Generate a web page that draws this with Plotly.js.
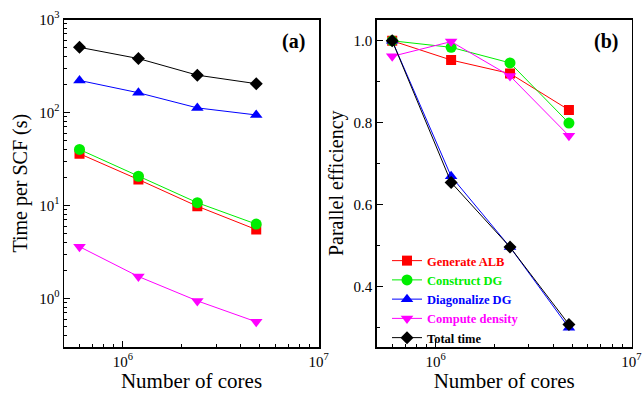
<!DOCTYPE html>
<html><head><meta charset="utf-8">
<script src="https://cdn.plot.ly/plotly-3.0.1.min.js"></script>
<style>html,body{margin:0;padding:0;background:#fff}</style>
</head><body><div id="chart" style="width:643px;height:397px"></div>
<script>
// ---- data ----
const cores = [6.0e5, 1.2e6, 2.4e6, 4.8e6];
const seriesNames = ['Generate ALB', 'Construct DG', 'Diagonalize DG', 'Compute density', 'Total time'];
const seriesColors = ['#ff0000', '#00ee00', '#0000ff', '#ff00ff', '#000000'];
const seriesSymbols = ['square', 'circle', 'triangle-up', 'triangle-down', 'diamond'];
const seriesSizes = [10, 11, 11, 11, 10];

const timeGenerateALB    = [36, 19, 9.8, 5.5];
const timeConstructDG    = [40, 20.6, 10.7, 6.3];
const timeDiagonalizeDG  = [221, 163, 112, 94];
const timeComputeDensity = [3.6, 1.72, 0.94, 0.56];
const timeTotal          = [502, 380, 252, 204];

const effGenerateALB    = [1.0, 0.953, 0.920, 0.831];
const effConstructDG    = [1.0, 0.984, 0.946, 0.799];
const effDiagonalizeDG  = [1.0, 0.669, 0.496, 0.299];
const effComputeDensity = [0.962, 0.998, 0.914, 0.768];
const effTotal          = [1.0, 0.654, 0.496, 0.307];

const xTickVals = [1e6, 1e7];
const xTickText = ['10<sup>6</sup>', '10<sup>7</sup>'];
const yTimeTickVals = [1, 10, 100, 1000];
const yTimeTickText = ['10<sup>0</sup>', '10<sup>1</sup>', '10<sup>2</sup>', '10<sup>3</sup>'];
const yEffTickVals = [0.4, 0.6, 0.8, 1.0];
const yEffTickText = ['0.4', '0.6', '0.8', '1.0'];

const timeSeries = [timeGenerateALB, timeConstructDG, timeDiagonalizeDG, timeComputeDensity, timeTotal];
const effSeries = [effGenerateALB, effConstructDG, effDiagonalizeDG, effComputeDensity, effTotal];

// minor log ticks (2..9 per decade)
function logMinor(lo, hi) {
  const out = [];
  for (let p = lo; p <= hi; p++) for (let m = 2; m <= 9; m++) out.push(m * Math.pow(10, p));
  return out;
}

const FONT = 'Liberation Serif, Times New Roman, serif';
const traces = [];
seriesNames.forEach((nm, i) => {
  traces.push({
    x: cores, y: timeSeries[i], xaxis: 'x', yaxis: 'y', showlegend: false, name: nm,
    mode: 'lines+markers',
    line: {color: seriesColors[i], width: 1},
    marker: {symbol: seriesSymbols[i], size: seriesSizes[i], color: seriesColors[i]}
  });
});
seriesNames.forEach((nm, i) => {
  traces.push({
    x: cores, y: effSeries[i], xaxis: 'x2', yaxis: 'y2', showlegend: true,
    name: '<b><span style="color:' + seriesColors[i] + '">' + nm + '</span></b>',
    mode: 'lines+markers',
    line: {color: seriesColors[i], width: 1},
    marker: {symbol: seriesSymbols[i], size: seriesSizes[i], color: seriesColors[i]}
  });
});

const W = 643, H = 397;
const yDom = [(H - 347) / H, (H - 19.5) / H];
const axisBase = {
  showline: true, mirror: true, linecolor: '#000', linewidth: 1.5,
  ticks: 'inside', ticklen: 6, tickwidth: 1, tickcolor: '#000',
  showgrid: false, zeroline: false,
  tickfont: {family: FONT, size: 15, color: '#000'}
};
function xAxis(dom, anchor) {
  return Object.assign({}, axisBase, {
    type: 'log', domain: dom, anchor: anchor, range: [Math.log10(5e5), 7.002],
    tickmode: 'array', tickvals: xTickVals, ticktext: xTickText,
    minor: {tickmode: 'array', tickvals: logMinor(5, 6), ticks: 'inside', ticklen: 3, tickwidth: 1, tickcolor: '#000'},
    title: {text: 'Number of cores', font: {family: FONT, size: 21, color: '#000'}, standoff: 4}
  });
}

const layout = {
  width: W, height: H,
  margin: {l: 0, r: 0, t: 0, b: 0},
  paper_bgcolor: '#fff', plot_bgcolor: '#fff',
  showlegend: true,
  xaxis: xAxis([64 / W, 319 / W], 'y'),
  xaxis2: xAxis([376.7 / W, 631.7 / W], 'y2'),
  yaxis: Object.assign({}, axisBase, {
    type: 'log', domain: yDom, anchor: 'x', range: [Math.log10(0.3), 3],
    tickmode: 'array', tickvals: yTimeTickVals, ticktext: yTimeTickText,
    minor: {tickmode: 'array', tickvals: logMinor(-1, 2), ticks: 'inside', ticklen: 3, tickwidth: 1, tickcolor: '#000'},
    title: {text: 'Time per SCF (s)', font: {family: FONT, size: 20, color: '#000'}, standoff: 6}
  }),
  yaxis2: Object.assign({}, axisBase, {
    domain: yDom, anchor: 'x2', range: [0.252, 1.052],
    tickmode: 'array', tickvals: yEffTickVals, ticktext: yEffTickText,
    minor: {tickmode: 'linear', tick0: 0.3, dtick: 0.2, ticks: 'inside', ticklen: 3, tickwidth: 1, tickcolor: '#000'},
    title: {text: 'Parallel efficiency', font: {family: FONT, size: 20, color: '#000'}, standoff: 4}
  }),
  legend: {
    x: 387 / W, xanchor: 'left', y: (H - 246) / H, yanchor: 'top',
    bgcolor: 'rgba(0,0,0,0)', borderwidth: 0,
    font: {family: FONT, size: 12.5, color: '#000'}
  },
  annotations: [
    {text: '<b>(a)</b>', xref: 'x domain', yref: 'y domain', x: 0.953, y: 0.934, xanchor: 'right', yanchor: 'middle', showarrow: false, font: {family: FONT, size: 20, color: '#000'}},
    {text: '<b>(b)</b>', xref: 'x2 domain', yref: 'y2 domain', x: 0.954, y: 0.934, xanchor: 'right', yanchor: 'middle', showarrow: false, font: {family: FONT, size: 20, color: '#000'}}
  ]
};

Plotly.newPlot('chart', traces, layout, {displayModeBar: false, staticPlot: true});
</script></body></html>
